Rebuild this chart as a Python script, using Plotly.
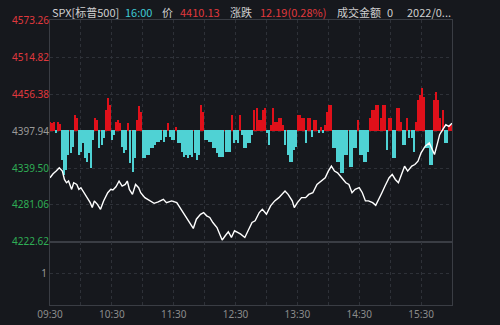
import plotly.graph_objects as go
import numpy as np

prev_close = 4397.94
price_ticks = [4222.62, 4281.06, 4339.50, 4397.94, 4456.38, 4514.82, 4573.26]
pct_labels = ["3.99%", "2.66%", "1.33%", "0.00%", "1.33%", "2.66%", "3.99%"]
time_ticks = [0, 60, 120, 180, 240, 300, 360]
time_labels = ["09:30", "10:30", "11:30", "12:30", "13:30", "14:30", "15:30"]

price_minutes = [0, 3, 6, 9, 12, 14, 16, 18, 21, 23,
                 26, 28, 30, 34, 36, 39, 41, 43, 46, 49,
                 52, 54, 56, 59, 61, 64, 67, 70, 73, 75,
                 77, 80, 83, 86, 88, 92, 97, 101, 105, 110,
                 113, 118, 123, 126, 129, 133, 136, 139, 142, 146,
                 149, 152, 155, 158, 162, 165, 167, 170, 173, 176,
                 179, 182, 185, 189, 193, 196, 199, 203, 206, 210,
                 214, 218, 222, 225, 228, 231, 235, 237, 240, 244,
                 248, 251, 255, 259, 263, 267, 270, 273, 276, 279,
                 283, 287, 290, 293, 296, 300, 303, 306, 309, 313,
                 316, 320, 322, 325, 329, 332, 335, 338, 341, 344,
                 347, 351, 354, 357, 360, 364, 368, 370, 373, 376,
                 378, 381, 384, 387, 390]
price_values = [4324.1, 4330.4, 4334.6, 4339.8, 4334.6, 4321.4, 4316.2, 4318.9, 4305.7, 4316.2,
                4313.5, 4305.7, 4308.4, 4297.8, 4292.7, 4284.8, 4277.0, 4287.5, 4282.1, 4274.3,
                4287.5, 4295.3, 4300.5, 4305.7, 4304.8, 4309.9, 4318.9, 4311.0, 4313.5, 4318.9,
                4305.7, 4297.8, 4313.5, 4308.4, 4300.5, 4292.7, 4287.5, 4283.7, 4285.9, 4290.0,
                4284.8, 4287.5, 4284.8, 4277.0, 4269.1, 4258.6, 4250.7, 4244.0, 4258.6, 4266.4,
                4269.1, 4263.9, 4261.3, 4253.4, 4245.5, 4235.0, 4225.6, 4232.5, 4238.8, 4229.8,
                4240.3, 4237.7, 4235.0, 4229.8, 4242.8, 4253.4, 4256.0, 4269.1, 4274.3, 4266.4,
                4279.6, 4287.5, 4292.7, 4297.8, 4303.2, 4297.8, 4287.5, 4277.0, 4284.8, 4292.7,
                4292.7, 4297.8, 4300.5, 4313.5, 4318.9, 4324.1, 4334.6, 4342.4, 4334.6, 4331.9,
                4324.1, 4316.2, 4313.5, 4300.5, 4305.7, 4308.4, 4300.5, 4287.5, 4287.5, 4284.8,
                4280.5, 4292.7, 4300.5, 4311.0, 4324.1, 4329.3, 4321.4, 4316.2, 4329.3, 4342.4,
                4334.6, 4342.4, 4345.0, 4350.3, 4363.4, 4373.9, 4379.1, 4371.2, 4360.7, 4379.1,
                4392.1, 4400.0, 4407.8, 4405.3, 4410.13]

bar_values = [8, 7, 8, -3, 8, 6, -30, -45, -40, -25, -23, -17, 15, 12, -25, -22, -13, -28, -32, -23,
              -38, -10, 12, 10, -18, -15, -8, 20, 32, 25, -10, -5, 8, 10, 7, -17, -23, -20, 7, -33,
              -42, -28, 10, 24, 18, -28, -28, -25, -25, -18, -18, -15, -12, -12, -10, -12, -7, 7, -7, -10,
              -10, 3, -13, -13, -22, -27, -25, -28, -25, -27, -23, -30, -25, 25, 18, -10, -10, -12, -12, -18,
              -18, -23, -27, -27, -27, -22, -22, -22, 15, -13, -10, -13, 15, -5, -18, -18, -13, -13, -5, 20,
              22, 10, 10, 20, 22, -3, -15, 5, 22, 8, 8, 12, 12, 5, -15, -25, -32, -32, -20, -17,
              15, 15, 12, 12, -13, 12, 12, -7, 10, 10, -3, 3, -3, 5, 18, 25, 25, -18, -18, -32,
              -32, -43, -43, -25, -25, -37, -37, -18, -18, 10, -25, -25, -32, -32, -22, 12, 20, 20, 25, 25,
              12, 25, 25, -20, 12, 12, -28, -28, 22, 22, 8, -15, -15, 12, -8, -8, -22, 8, 30, 35,
              42, 33, -18, -18, -35, -35, 30, 38, 30, 12, 20, -13, -13, 5, 5]

bar_minutes = np.linspace(0, 389, len(bar_values))
bar_colors = ["#e0101a" if v >= 0 else "#4fd2d4" for v in bar_values]

BG = "#16181d"
GRID = "#2e3138"
LINE = "#3a3d44"
RED = "#e0393e"
GREEN = "#2fae55"
GRAY = "#9a9a9a"

fig = go.Figure()
fig.add_trace(go.Bar(x=bar_minutes, y=bar_values, marker=dict(color=bar_colors, line=dict(width=0)),
                     xaxis="x", yaxis="y", width=1.3, showlegend=False))
fig.add_trace(go.Scatter(x=price_minutes, y=price_values, mode="lines",
                         line=dict(color="#ffffff", width=1.4), xaxis="x", yaxis="y2", showlegend=False))
fig.add_trace(go.Scatter(x=[None], y=[None], xaxis="x", yaxis="y3", showlegend=False))

def col(i):
    return RED if i > 3 else (GRAY if i == 3 else GREEN)

left_text = [f"<span style='color:{col(i)}'>{v:.2f}</span>" for i, v in enumerate(price_ticks)]
right_text = [f"<span style='color:{col(i)}'>{t}</span>" for i, t in enumerate(reversed(pct_labels))]

prange = [price_ticks[0] - 0.05, price_ticks[-1] + 0.05]
dom_top = [0.221, 1]
dom_bot = [0, 0.221]
font_num = dict(family="Noto Sans, sans-serif", size=10, color=GRAY)
font_x = dict(family="Noto Sans, sans-serif", size=10, color="#8c8c8c")

fig.update_layout(
    width=500, height=325,
    margin=dict(l=50, r=48, t=20, b=20),
    paper_bgcolor=BG, plot_bgcolor=BG,
    bargap=0,
    xaxis=dict(range=[0, 390], tickvals=list(range(0, 391, 30)),
               ticktext=[time_labels[time_ticks.index(t)] if t in time_ticks else "" for t in range(0, 391, 30)],
               showgrid=True, gridcolor=GRID, griddash="dot", gridwidth=1,
               showline=True, linecolor=LINE, mirror="all", zeroline=False,
               tickfont=font_x, ticks="", anchor="y3", automargin=False),
    yaxis=dict(domain=dom_top, range=[-112, 110], showgrid=False, showticklabels=False,
               zeroline=True, zerolinecolor="#e0101a", zerolinewidth=1,
               showline=True, linecolor=LINE, mirror=True, automargin=False),
    yaxis2=dict(domain=dom_top, range=prange, overlaying="y", side="left",
                tickvals=price_ticks, ticktext=left_text, tickfont=font_num,
                showgrid=True, gridcolor=GRID, griddash="dot", zeroline=False, ticks="",
                automargin=False),
    yaxis6=dict(range=prange, overlaying="y", side="right",
                tickvals=price_ticks, ticktext=right_text, tickfont=font_num,
                showgrid=False, zeroline=False, ticks="", automargin=False),
    yaxis3=dict(domain=dom_bot, range=[0, 2], tickvals=[1], ticktext=["1"], tickfont=font_num,
                showgrid=True, gridcolor=GRID, griddash="dot", zeroline=False,
                showline=True, linecolor=LINE, mirror=True, ticks="", automargin=False),
    yaxis4=dict(range=[0, 2], overlaying="y3", side="right", tickvals=[1], ticktext=["1"],
                tickfont=font_num, showgrid=False, zeroline=False, ticks="", automargin=False),
)

header = [
    ("SPX[标普500]", 50, "#cfcfcf"),
    ("16:00", 123, "#3fc9d2"),
    ("价", 160, "#cfcfcf"),
    ("4410.13", 178, RED),
    ("涨跌", 228, "#cfcfcf"),
    ("12.19(0.28%)", 258, RED),
    ("成交金额", 335, "#cfcfcf"),
    ("0", 385, "#cfcfcf"),
    ("2022/0...", 405, "#cfcfcf"),
]
plot_w, plot_h = 402, 285
for txt, px, c in header:
    fig.add_annotation(text=txt, x=(px - 50) / plot_w, y=1 + (20 - 12) / plot_h,
                       xref="paper", yref="paper", xanchor="left", yanchor="middle",
                       showarrow=False,
                       font=dict(family="Noto Sans CJK SC, Noto Sans, sans-serif", size=11, color=c))

fig.write_html("out.html")
